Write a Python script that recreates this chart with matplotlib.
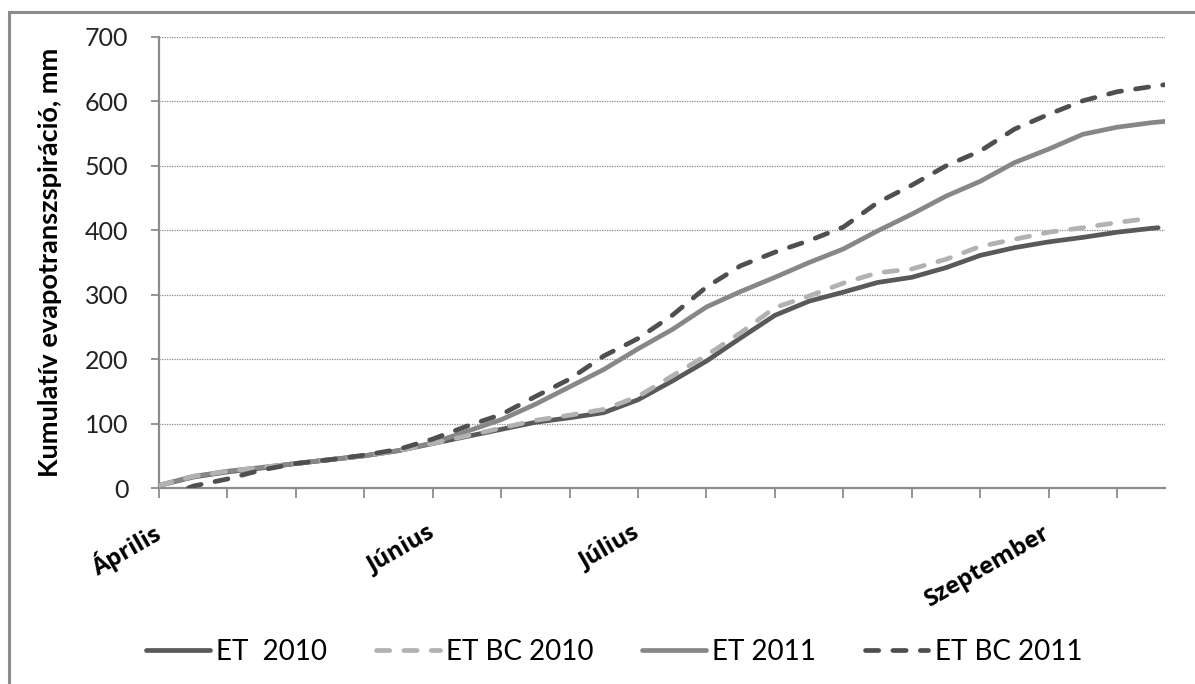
import numpy as np
import matplotlib
matplotlib.use("Agg")
import matplotlib.pyplot as plt
from matplotlib.patches import Rectangle

# ---------------- data (x in category-tick units) ----------------
x_et2010 = [0, 0.5, 1, 1.5, 2, 2.5, 3, 3.5, 4, 4.5, 5, 5.5, 6, 6.5, 7, 7.5, 8, 8.5,
            9, 9.5, 10, 10.5, 11, 11.5, 12, 12.5, 13, 13.5, 14, 14.5, 14.6]
y_et2010 = [4, 17, 25, 31, 38, 44, 50, 58, 69, 80, 91, 102, 109, 117, 137, 166, 197, 233,
            268, 290, 304, 319, 327, 342, 361, 373, 382, 389, 397, 403, 404]

x_etbc2010 = [0, 0.5, 1, 1.5, 2, 2.5, 3, 3.5, 4, 4.5, 5, 5.5, 6, 6.5, 7, 7.5, 8, 8.5,
              9, 9.5, 10, 10.5, 11, 11.5, 12, 12.5, 13, 13.5, 14, 14.5]
y_etbc2010 = [4, 18, 26, 32, 38, 44, 50, 58, 69, 81, 93, 105, 113, 122, 142, 174, 206, 241,
              280, 298, 318, 334, 340, 355, 375, 386, 397, 404, 412, 419]

x_et2011 = [0, 0.5, 1, 1.5, 2, 2.5, 3, 3.5, 4, 4.5, 5, 5.5, 6, 6.5, 7, 7.5, 8, 8.5,
            9, 9.5, 10, 10.5, 11, 11.5, 12, 12.5, 13, 13.5, 14, 14.5, 14.7]
y_et2011 = [4, 18, 26, 32, 38, 44, 50, 58, 70, 88, 106, 130, 157, 184, 216, 246, 281, 305,
            327, 350, 371, 399, 425, 453, 476, 505, 526, 549, 560, 567, 569]

x_etbc2011 = [0.43, 0.5, 1, 1.5, 2, 2.5, 3, 3.5, 4, 4.5, 5, 5.5, 6, 6.5, 7, 7.5, 8, 8.5,
              9, 9.5, 10, 10.5, 11, 11.5, 12, 12.5, 13, 13.5, 14, 14.5, 14.7]
y_etbc2011 = [0, 3, 14, 28, 38, 44, 51, 60, 76, 96, 114, 142, 169, 205, 232, 268, 312, 345,
              366, 384, 405, 443, 470, 500, 523, 557, 580, 601, 615, 623, 626]

tick_positions = list(range(15))
tick_labels = ["Április", "", "", "", "Június", "", "", "Július",
               "", "", "", "", "", "Szeptember", ""]
y_ticks = [0, 100, 200, 300, 400, 500, 600, 700]
series_names = ["ET  2010", "ET BC 2010", "ET 2011", "ET BC 2011"]
ylabel = "Kumulatív evapotranszspiráció, mm"

# ---------------- figure ----------------
plt.rcParams['font.family'] = ['Lato', 'DejaVu Sans']
W, H = 1195, 684
fig = plt.figure(figsize=(W / 100, H / 100), dpi=100)

# outer chart frame
fig.patches.append(Rectangle((9 / W, -0.05), 1.2, 1 - 12 / H + 0.05,
                             transform=fig.transFigure, fill=False,
                             edgecolor="#8c8c8c", linewidth=2.2, zorder=0))

ax_l, ax_r, ax_t, ax_b = 159, 1165, 37, 488
ax = fig.add_axes([ax_l / W, 1 - ax_b / H, (ax_r - ax_l) / W, (ax_b - ax_t) / H])

lw = 3.4
dash = (0, (2.8, 3.0))
ax.plot(x_et2010, y_et2010, color="#595959", lw=lw, solid_capstyle="round",
        label=series_names[0], zorder=3)
ax.plot(x_etbc2010, y_etbc2010, color="#b2b2b2", lw=lw, linestyle=dash,
        dash_capstyle="round", label=series_names[1], zorder=4)
ax.plot(x_et2011, y_et2011, color="#878787", lw=lw, solid_capstyle="round",
        label=series_names[2], zorder=3)
ax.plot(x_etbc2011, y_etbc2011, color="#4f4f4f", lw=lw, linestyle=dash,
        dash_capstyle="round", label=series_names[3], zorder=5)

ax.set_xlim(0, 14.7)
ax.set_ylim(0, 700)
ax.set_yticks(y_ticks)
ax.set_xticks(tick_positions)
ax.set_xticklabels(tick_labels, rotation=30, ha="right", va="center",
                   rotation_mode="anchor", fontsize=17, fontweight="bold",
                   fontstyle="normal", family=["Open Sans", "DejaVu Sans"])
ax.tick_params(axis="x", length=7, width=1.3, color="#8c8c8c", pad=24)
ax.tick_params(axis="y", length=6, width=1.3, color="#8c8c8c", pad=16,
               labelsize=18, labelcolor="#222222")

for s in ["top", "right"]:
    ax.spines[s].set_visible(False)
for s in ["left", "bottom"]:
    ax.spines[s].set_color("#8c8c8c")
    ax.spines[s].set_linewidth(1.6)

ax.yaxis.grid(True, linestyle=(0, (1, 1)), color="#8a8a8a", linewidth=0.9)
ax.set_axisbelow(True)

ax.set_ylabel(ylabel, fontsize=19.5, fontweight="bold", fontstyle="normal")
ax.yaxis.set_label_coords(-0.096, 0.5)

fig.legend(loc="center", bbox_to_anchor=(0.514, 0.047), ncol=4, frameon=False,
           handlelength=2.3, handletextpad=0.22, columnspacing=1.75,
           prop={'family': ['Lato', 'DejaVu Sans'], 'size': 20})

fig.savefig("out.png", dpi=100, facecolor="white")
